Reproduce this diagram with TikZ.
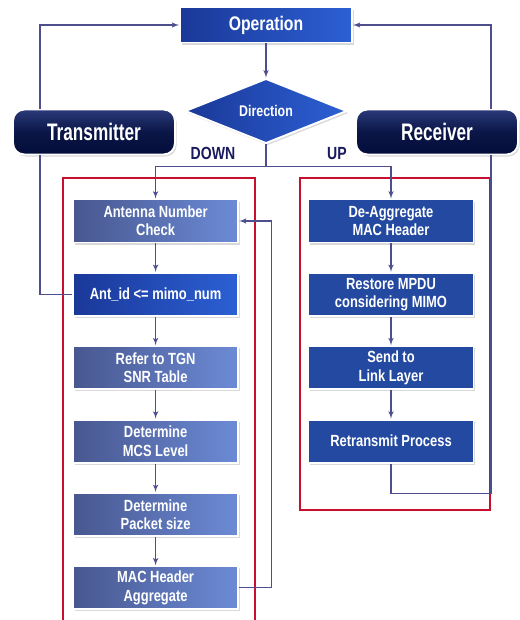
\documentclass[tikz,border=0pt]{standalone}
\usepackage{fontspec}
\setmainfont{Liberation Sans}[FakeStretch=0.8]
\newfontfamily\tagfont{Liberation Sans}[FakeStretch=0.72]
\usetikzlibrary{shapes.geometric,arrows,positioning,calc,shadows}

\definecolor{linecol}{HTML}{4E4E8E}
\definecolor{tipcol}{HTML}{1E1E6E}
\definecolor{opblueA}{HTML}{1A3898}
\definecolor{opblueB}{HTML}{2C60D4}
\definecolor{navyA}{HTML}{2A3A7A}
\definecolor{navyB}{HTML}{030D3A}
\definecolor{steelA}{HTML}{48578F}
\definecolor{steelB}{HTML}{6C8BD6}
\definecolor{rxblue}{HTML}{2449A0}
\definecolor{frame}{HTML}{C8102E}
\definecolor{labcol}{HTML}{1A1A5E}

\begin{document}
\begin{tikzpicture}[
    % Define styles for different types of blocks
    shadowed/.style={
        draw=white,
        line width=1.4pt,
        drop shadow={opacity=0.3, shadow xshift=0.04cm, shadow yshift=-0.05cm}
    },
    opbox/.style={
        rectangle,
        shadowed,
        left color=opblueA,
        right color=opblueB,
        text=white,
        font=\bfseries\fontsize{14}{16}\selectfont,
        minimum width=4.3cm,
        minimum height=0.875cm
    },
    decision/.style={
        diamond,
        shadowed,
        left color=opblueA,
        right color=opblueB,
        text=white,
        font=\bfseries\fontsize{11}{13}\selectfont,
        minimum width=4.05cm,
        minimum height=1.45cm,
        inner sep=0pt
    },
    sidetag/.style={
        rectangle,
        rounded corners=8pt,
        shadowed,
        top color=navyA,
        bottom color=navyB,
        middle color=navyB!80!navyA,
        text=white,
        font=\tagfont\bfseries\fontsize{17}{19}\selectfont,
        minimum width=4.05cm,
        minimum height=1.125cm
    },
    txblock/.style={
        rectangle,
        shadowed,
        left color=steelA,
        right color=steelB,
        text=white,
        align=center,
        font=\bfseries\fontsize{11.5}{13}\selectfont,
        minimum width=4.125cm,
        minimum height=1.075cm
    },
    keyblock/.style={
        txblock,
        left color=opblueA,
        right color=opblueB
    },
    rxblock/.style={
        txblock,
        fill=rxblue,
        left color=rxblue,
        right color=rxblue
    },
    group/.style={
        draw=frame,
        line width=1.2pt
    },
    line/.style={
        draw=linecol,
        line width=0.8pt
    },
    arrowline/.style={
        line,
        -latex',
        >=latex'
    },
    dirlabel/.style={
        text=labcol,
        font=\bfseries\fontsize{12.5}{14}\selectfont
    }
]
\useasboundingbox (0,0) rectangle (13,-15.5);

% Red frames round the two paths
\draw[group] (1.575,-4.45) rectangle (6.375,-15.8);
\draw[group] (7.5,-4.45) rectangle (12.25,-12.75);

% Place the top blocks
\node[opbox] (op) at (6.65,-0.625) {Operation};
\node[decision] (dir) at (6.65,-2.775) {Direction};
\node[sidetag] (trans) at (2.35,-3.3) {Transmitter};
\node[sidetag] (recv) at (10.925,-3.3) {Receiver};
\node[dirlabel] (down) at (5.325,-3.83) {DOWN};
\node[dirlabel] (up) at (8.425,-3.83) {UP};

% Transmitter path
\node[txblock] (ant) at (3.89,-5.525) {Antenna Number\\Check};
\node[keyblock, below=0.71cm of ant] (antid) {Ant\_id <= mimo\_num};
\node[txblock, below=0.71cm of antid] (tgn) {Refer to TGN\\SNR Table};
\node[txblock, below=0.71cm of tgn] (mcs) {Determine\\MCS Level};
\node[txblock, below=0.71cm of mcs] (pkt) {Determine\\Packet size};
\node[txblock, below=0.71cm of pkt] (macagg) {MAC Header\\Aggregate};

% Receiver path
\node[rxblock] (deagg) at (9.775,-5.525) {De-Aggregate\\MAC Header};
\node[rxblock, below=0.71cm of deagg] (restore) {Restore MPDU\\considering MIMO};
\node[rxblock, below=0.71cm of restore] (send) {Send to\\Link Layer};
\node[rxblock, below=0.71cm of send] (retx) {Retransmit Process};

% Draw the connections
\draw[arrowline] (op) -- (dir);
\draw[line] (dir.south) -- ++(0,-0.55) coordinate (split);
\draw[arrowline] (split) -| (ant.north);
\draw[arrowline] (split) -| (deagg.north);

% Back to Operation
\draw[arrowline] ([xshift=0.7cm]trans.north west) |- (op.west);
\draw[arrowline] ([xshift=-0.7cm]recv.north east) |- (op.east);

% Transmitter chain
\draw[arrowline] (ant) -- (antid);
\draw[arrowline] (antid) -- (tgn);
\draw[arrowline] (tgn) -- (mcs);
\draw[arrowline] (mcs) -- (pkt);
\draw[arrowline] (pkt) -- (macagg);
\draw[line] (antid.west) -| ([xshift=0.7cm]trans.south west);
\draw[arrowline] (macagg.east) -- ++(0.8,0) |- (ant.east);

% Receiver chain
\draw[arrowline] (deagg) -- (restore);
\draw[arrowline] (restore) -- (send);
\draw[arrowline] (send) -- (retx);
\draw[line] (retx.south) -- ++(0,-0.75) -| ([xshift=-0.7cm]recv.south east);

\end{tikzpicture}
\end{document}
